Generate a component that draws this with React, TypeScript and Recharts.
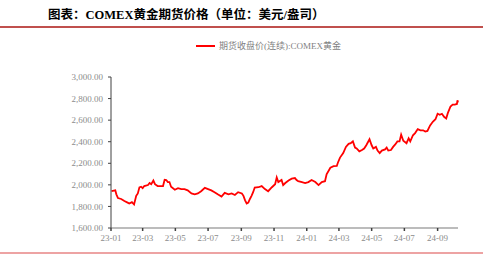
import { LineChart, Line, XAxis, YAxis, Legend } from "recharts";

// COMEX gold, continuous contract close (USD/oz)
const dates = [
  "2023-01-02", "2023-01-09", "2023-01-11", "2023-01-14", "2023-01-20", "2023-01-26",
  "2023-02-01", "2023-02-04", "2023-02-09", "2023-02-13", "2023-02-17", "2023-02-20",
  "2023-02-23", "2023-02-26", "2023-03-01", "2023-03-04", "2023-03-11", "2023-03-14",
  "2023-03-17", "2023-03-21", "2023-03-24", "2023-03-29", "2023-04-04", "2023-04-08",
  "2023-04-11", "2023-04-14", "2023-04-17", "2023-04-20", "2023-04-23", "2023-04-30",
  "2023-05-06", "2023-05-12", "2023-05-18", "2023-05-24", "2023-05-31", "2023-06-06",
  "2023-06-12", "2023-06-18", "2023-06-25", "2023-07-01", "2023-07-07", "2023-07-13",
  "2023-07-19", "2023-07-26", "2023-08-01", "2023-08-08", "2023-08-14", "2023-08-20",
  "2023-08-26", "2023-09-02", "2023-09-05", "2023-09-08", "2023-09-11", "2023-09-14",
  "2023-09-17", "2023-09-20", "2023-09-23", "2023-09-26", "2023-10-03", "2023-10-09",
  "2023-10-15", "2023-10-21", "2023-10-28", "2023-11-03", "2023-11-06", "2023-11-09",
  "2023-11-15", "2023-11-18", "2023-11-22", "2023-11-28", "2023-12-04", "2023-12-10",
  "2023-12-13", "2023-12-16", "2023-12-23", "2023-12-29", "2024-01-04", "2024-01-10",
  "2024-01-17", "2024-01-23", "2024-01-29", "2024-02-04", "2024-02-07", "2024-02-14",
  "2024-02-20", "2024-02-26", "2024-02-28", "2024-03-03", "2024-03-09", "2024-03-14",
  "2024-03-19", "2024-03-23", "2024-03-27", "2024-03-31", "2024-04-03", "2024-04-08",
  "2024-04-13", "2024-04-17", "2024-04-21", "2024-04-27", "2024-05-01", "2024-05-04",
  "2024-05-09", "2024-05-12", "2024-05-16", "2024-05-20", "2024-05-26", "2024-05-29",
  "2024-06-01", "2024-06-06", "2024-06-10", "2024-06-14", "2024-06-18", "2024-06-22",
  "2024-06-25", "2024-06-29", "2024-07-05", "2024-07-09", "2024-07-12", "2024-07-17",
  "2024-07-21", "2024-07-26", "2024-07-31", "2024-08-05", "2024-08-09", "2024-08-13",
  "2024-08-18", "2024-08-23", "2024-08-28", "2024-09-01", "2024-09-05", "2024-09-09",
  "2024-09-13", "2024-09-17", "2024-09-20", "2024-09-25", "2024-09-29", "2024-10-03",
  "2024-10-07", "2024-10-08", "2024-10-09",
];

const prices = [
  1941, 1949, 1912, 1878, 1869, 1850,
  1835, 1827, 1840, 1818, 1898, 1921,
  1977, 1983, 1970, 1989, 1998, 2017,
  2006, 2040, 2006, 1989, 1989, 1989,
  2048, 2045, 2026, 2026, 1983, 1955,
  1969, 1961, 1961, 1949, 1920, 1912,
  1920, 1941, 1972, 1961, 1949, 1932,
  1912, 1892, 1926, 1912, 1920, 1906,
  1932, 1920, 1898, 1856, 1827, 1835,
  1869, 1898, 1932, 1975, 1978, 1989,
  1961, 1941, 1978, 2006, 2069, 2026,
  2045, 1998, 2017, 2040, 2057, 2063,
  2045, 2034, 2026, 2017, 2026, 2045,
  2026, 1998, 2026, 2034, 2097, 2159,
  2173, 2175, 2205, 2253, 2295, 2352,
  2380, 2386, 2403, 2346, 2337, 2310,
  2323, 2337, 2367, 2423, 2367, 2337,
  2352, 2318, 2295, 2318, 2329, 2346,
  2318, 2323, 2352, 2375, 2403, 2403,
  2466, 2409, 2386, 2432, 2403, 2460,
  2480, 2517, 2506, 2506, 2494, 2500,
  2551, 2585, 2608, 2659, 2650, 2659,
  2631, 2616, 2665, 2727, 2744, 2744,
  2750, 2784, 2764,
];

const xTicks = [
  "2023-01-01", "2023-03-01", "2023-05-01", "2023-07-01", "2023-09-01", "2023-11-01",
  "2024-01-01", "2024-03-01", "2024-05-01", "2024-07-01", "2024-09-01",
];
const yTicks = [1600, 1800, 2000, 2200, 2400, 2600, 2800, 3000];

const seriesName = "期货收盘价(连续):COMEX黄金";

const ts = (d: string) => Date.parse(d + "T00:00:00Z");
const data = dates.map((d, i) => ({ t: ts(d), price: prices[i] }));

const serif = "'Liberation Serif', 'Noto Sans CJK SC', serif";

const fmtMonth = (v: number) => {
  const d = new Date(v);
  const yy = String(d.getUTCFullYear()).slice(2);
  const mm = String(d.getUTCMonth() + 1).padStart(2, "0");
  return `${yy}-${mm}`;
};

const fmtPrice = (v: number) =>
  v.toLocaleString("en-US", { minimumFractionDigits: 2, maximumFractionDigits: 2 });

function LegendBox() {
  return (
    <div style={{ display: "flex", alignItems: "center", fontFamily: serif, fontSize: 9, color: "#7f7f7f" }}>
      <span style={{ display: "inline-block", width: 19, height: 2, background: "#ff0000", marginRight: 4 }} />
      <span>{seriesName}</span>
    </div>
  );
}

export default function App() {
  return (
    <div style={{ position: "absolute", left: 0, top: 0, width: 488, height: 255, background: "#fff" }}>
      <div
        style={{
          position: "absolute",
          left: 48,
          top: 4,
          fontFamily: serif,
          fontWeight: "bold",
          fontSize: 12.5,
          color: "#000",
          whiteSpace: "nowrap",
        }}
      >
        图表：COMEX黄金期货价格（单位：美元/盎司）
      </div>
      <div style={{ position: "absolute", left: 0, top: 26, width: 483, height: 1.5, background: "#c0504d" }} />
      <div style={{ position: "absolute", left: 0, top: 252, width: 483, height: 1.5, background: "#eda3a3" }} />
      <LineChart width={488} height={255} data={data} margin={{ top: 64, right: 30, bottom: 0, left: 0 }}>
        <XAxis
          dataKey="t"
          type="number"
          scale="time"
          domain={[ts("2023-01-01"), ts("2024-10-09")]}
          ticks={xTicks.map(ts)}
          tickFormatter={fmtMonth}
          height={27}
          stroke="#a6a6a6"
          strokeWidth={1.5}
          tickSize={3}
          tickMargin={4}
          tickLine={{ stroke: "#404040" }}
          tick={{ fill: "#8c8c8c", fontSize: 9, fontFamily: serif }}
          interval={0}
        />
        <YAxis
          type="number"
          domain={[1600, 3000]}
          ticks={yTicks}
          tickFormatter={fmtPrice}
          width={111}
          stroke="#404040"
          tickSize={3}
          tickMargin={5}
          tick={{ fill: "#8c8c8c", fontSize: 9, fontFamily: serif }}
          interval={0}
        />
        <Legend
          verticalAlign="top"
          content={() => <LegendBox />}
          wrapperStyle={{ position: "absolute", top: 39, left: 196, width: "auto" }}
        />
        <Line
          type="linear"
          dataKey="price"
          name={seriesName}
          stroke="#ff0000"
          strokeWidth={1.8}
          dot={false}
          isAnimationActive={false}
        />
      </LineChart>
    </div>
  );
}
